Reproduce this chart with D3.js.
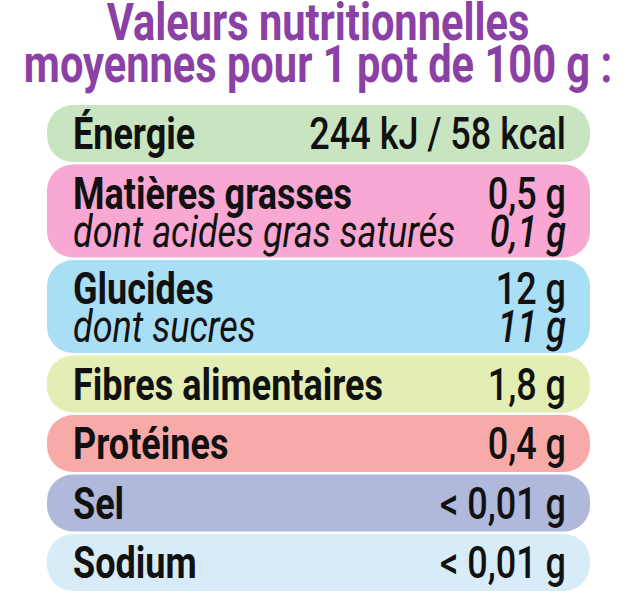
<!DOCTYPE html>
<html><head><meta charset="utf-8">
<script src="https://cdn.jsdelivr.net/npm/d3@7"></script>
<style>body{margin:0;background:#fff}</style></head>
<body><svg id="chart" width="640" height="594"></svg>
<script>
var titleLines = ["Valeurs nutritionnelles", "moyennes pour 1 pot de 100 g :"];
var labels = ["Énergie", "Matières grasses", "Glucides", "Fibres alimentaires", "Protéines", "Sel", "Sodium"];
var values = ["244 kJ / 58 kcal", "0,5 g", "12 g", "1,8 g", "0,4 g", "< 0,01 g", "< 0,01 g"];
var subLabels = ["", "dont acides gras saturés", "dont sucres", "", "", "", ""];
var subValues = ["", "0,1 g", "11 g", "", "", "", ""];
var colors = ["#c8e4c0", "#f8a8d2", "#a8def6", "#e2eeb4", "#f8aaa8", "#b0b8dc", "#d8ecf8"];

var svg = d3.select("#chart");
var FONT = "Roboto, 'Liberation Sans', sans-serif";
var SX = 0.8;

// row layout: single-line rows 57px, double 93px, gap 2.5
var rows = [], y = 105;
labels.forEach(function(l, i) {
   var h = subLabels[i] ? 93 : 57;
   rows.push({label: l, value: values[i], sub: subLabels[i], subv: subValues[i], color: colors[i], y: y, h: h});
   y += h + 2.5;
});

var x = d3.scaleLinear().domain([0, 1]).range([47, 590]);

svg.selectAll("text.title")
   .data(titleLines)
   .enter().append("text")
   .attr("class", "title")
   .attr("transform", function(d, i) { return "translate(318," + (40 + i * 42) + ") scale(0.8,1)"; })
   .attr("text-anchor", "middle")
   .style("font-family", FONT).style("font-weight", "bold").style("font-size", "52px")
   .style("fill", "#8a40a4")
   .text(function(d) { return d; });

var g = svg.selectAll("g.row").data(rows).enter().append("g").attr("class", "row");

g.append("rect")
   .attr("x", x(0)).attr("width", x(1) - x(0))
   .attr("y", function(d) { return d.y; })
   .attr("height", function(d) { return d.h; })
   .attr("rx", 26)
   .style("fill", function(d) { return d.color; });

function txt(sel, px, yf, anchor, field, weight, italic) {
   sel.append("text")
      .attr("transform", function(d) { return "translate(" + px + "," + yf(d) + ") scale(" + SX + ",1)"; })
      .attr("text-anchor", anchor)
      .style("font-family", FONT)
      .style("font-weight", weight)
      .style("font-style", italic ? "italic" : "normal")
      .style("font-size", "45px")
      .style("fill", "#111")
      .text(function(d) { return d[field]; });
}
txt(g, 73, function(d) { return d.y + 44; }, "start", "label", "bold", false);
txt(g, 566, function(d) { return d.y + 44; }, "end", "value", "500", false);
var gs = g.filter(function(d) { return d.sub; });
txt(gs, 73, function(d) { return d.y + 82; }, "start", "sub", "normal", true);
txt(gs, 566, function(d) { return d.y + 82; }, "end", "subv", "500", true);
</script></body></html>
